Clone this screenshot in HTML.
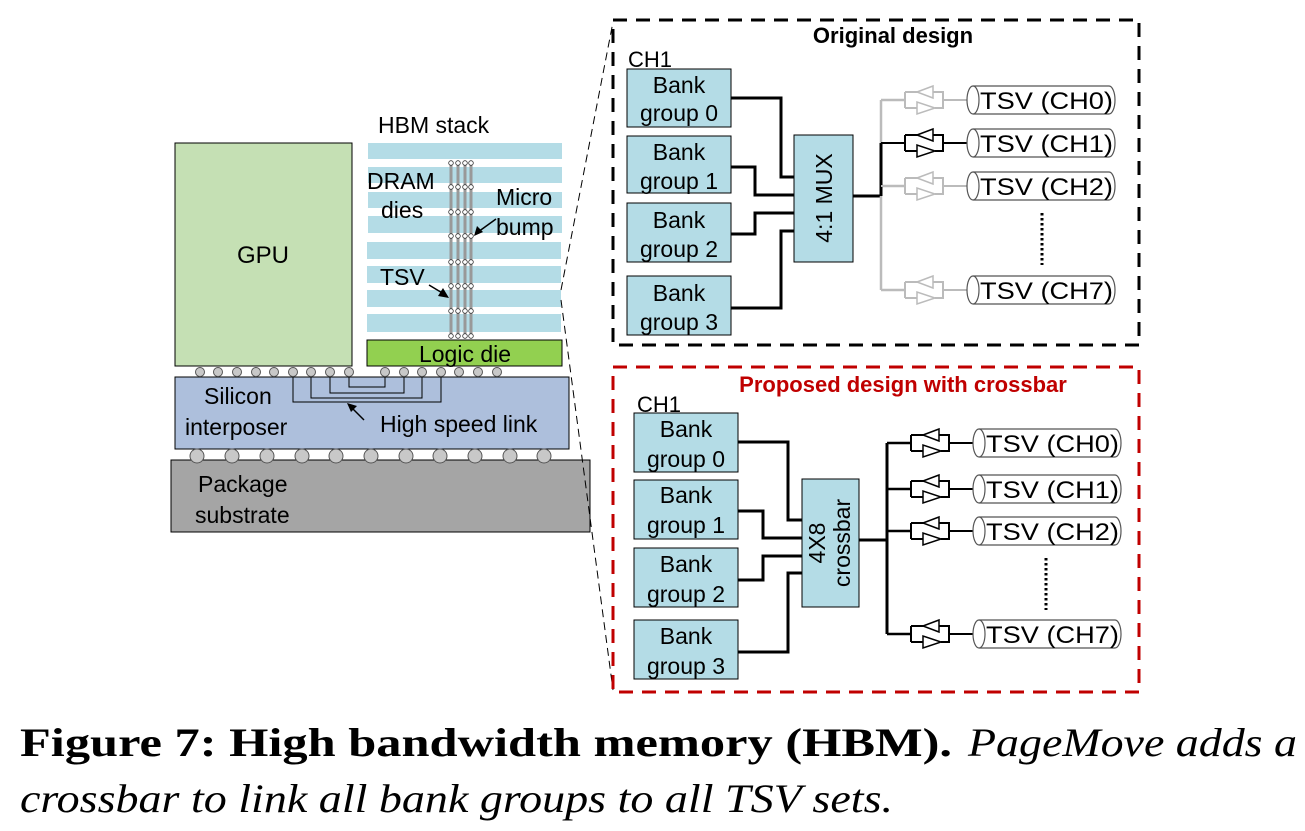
<!DOCTYPE html>
<html><head><meta charset="utf-8"><style>
html,body{margin:0;padding:0;background:#fff}
svg{display:block}
text{font-family:"Liberation Sans",Arial,sans-serif}
.s{font-family:"Liberation Serif",serif}
</style></head><body>
<svg width="1305" height="831" viewBox="0 0 1305 831" xmlns="http://www.w3.org/2000/svg">
<defs>
<g id="bufB">
<path d="M-24 0 H0 M0 -8 V8 M0 -8 H14 M0 8 H12 M26 -8 H38 V8 H30 M38 0 H62" fill="none" stroke="#000" stroke-width="2"/>
<path d="M12 -8 L28 -14 V-2 Z" fill="#fff" stroke="#000" stroke-width="1.5"/>
<path d="M12 2 V14 L30 8 Z" fill="#fff" stroke="#000" stroke-width="1.5"/>
</g>
<g id="bufG">
<path d="M-24 0 H0 M0 -8 V8 M0 -8 H14 M0 8 H12 M26 -8 H38 V8 H30 M38 0 H62" fill="none" stroke="#bbb" stroke-width="2"/>
<path d="M12 -8 L28 -14 V-2 Z" fill="#fff" stroke="#bbb" stroke-width="1.5"/>
<path d="M12 2 V14 L30 8 Z" fill="#fff" stroke="#bbb" stroke-width="1.5"/>
</g>
<g id="cyl">
<path d="M6 -14 H142 A6 14 0 0 1 142 14 H6" fill="#fff" stroke="#555" stroke-width="1.2"/>
<ellipse cx="6" cy="0" rx="6" ry="14" fill="#fff" stroke="#555" stroke-width="1.2"/>
</g>
<g id="bumprow" fill="#fff" stroke="#333" stroke-width="0.8"><circle cx="451" cy="0" r="2.3"/><circle cx="458" cy="0" r="2.3"/><circle cx="465" cy="0" r="2.3"/><circle cx="471" cy="0" r="2.3"/></g>
</defs>

<rect x="175" y="143" width="177" height="223" fill="#c5e0b4" stroke="#000" stroke-width="1"/>
<text x="263" y="263" font-size="24" text-anchor="middle">GPU</text>

<g fill="#b4dce6">
<rect x="368" y="143" width="194" height="16"/>
<rect x="368" y="167" width="194" height="16"/>
<rect x="368" y="192" width="194" height="16"/>
<rect x="368" y="216" width="194" height="17"/>
<rect x="367" y="242" width="194" height="17"/>
<rect x="367" y="266" width="194" height="17"/>
<rect x="367" y="290" width="194" height="17"/>
<rect x="367" y="314" width="194" height="18"/>
</g>
<g stroke="#999" stroke-width="3">
<line x1="451" y1="163" x2="451" y2="336"/><line x1="458" y1="163" x2="458" y2="336"/>
<line x1="465" y1="163" x2="465" y2="336"/><line x1="471" y1="163" x2="471" y2="336"/>
</g>
<use href="#bumprow" y="163"/><use href="#bumprow" y="187"/><use href="#bumprow" y="212"/><use href="#bumprow" y="236"/>
<use href="#bumprow" y="262"/><use href="#bumprow" y="286"/><use href="#bumprow" y="311"/><use href="#bumprow" y="336"/>
<text x="378" y="133" font-size="23">HBM stack</text>
<text x="367" y="189" font-size="23">DRAM</text>
<text x="381" y="218" font-size="23">dies</text>
<text x="496" y="205" font-size="23">Micro</text>
<text x="496" y="235" font-size="23">bump</text>
<text x="380" y="285" font-size="23">TSV</text>
<path d="M496 219 L478 232" stroke="#000" stroke-width="1.5"/><path d="M474 236 L477 226 L483 232 Z" fill="#000"/>
<path d="M429 285 L444 294" stroke="#000" stroke-width="1.5"/><path d="M449 298 L438 296 L443 288 Z" fill="#000"/>

<rect x="367" y="340" width="195" height="26" fill="#92d050" stroke="#000" stroke-width="1"/>
<text x="465" y="362" font-size="23" text-anchor="middle">Logic die</text>

<rect x="175" y="377" width="394" height="72" fill="#adbfdc" stroke="#000" stroke-width="1"/>
<g fill="#c8c8c8" stroke="#555" stroke-width="1">
<circle cx="200" cy="372" r="4.5"/><circle cx="218" cy="372" r="4.5"/><circle cx="237" cy="372" r="4.5"/><circle cx="256" cy="372" r="4.5"/><circle cx="274" cy="372" r="4.5"/><circle cx="293" cy="372" r="4.5"/><circle cx="311" cy="372" r="4.5"/><circle cx="330" cy="372" r="4.5"/><circle cx="349" cy="372" r="4.5"/>
<circle cx="385" cy="372" r="4.5"/><circle cx="404" cy="372" r="4.5"/><circle cx="422" cy="372" r="4.5"/><circle cx="441" cy="372" r="4.5"/><circle cx="459" cy="372" r="4.5"/><circle cx="478" cy="372" r="4.5"/><circle cx="497" cy="372" r="4.5"/>
</g>
<g fill="none" stroke="#000" stroke-width="1">
<path d="M293 377 V402 H441 V377"/><path d="M311 377 V398 H422 V377"/><path d="M330 377 V393 H404 V377"/><path d="M349 377 V387 H385 V377"/>
</g>
<path d="M364 420 L351 407" stroke="#000" stroke-width="1.5"/><path d="M347 403 L357 406 L351 412 Z" fill="#000"/>
<text x="204" y="404" font-size="23">Silicon</text>
<text x="185" y="435" font-size="23">interposer</text>
<text x="380" y="432" font-size="23">High speed link</text>

<rect x="171" y="460" width="419" height="72" fill="#a5a5a5" stroke="#000" stroke-width="1"/>
<g fill="#c8c8c8" stroke="#555" stroke-width="1">
<circle cx="197" cy="456" r="7"/><circle cx="232" cy="456" r="7"/><circle cx="267" cy="456" r="7"/><circle cx="302" cy="456" r="7"/><circle cx="336" cy="456" r="7"/><circle cx="371" cy="456" r="7"/><circle cx="406" cy="456" r="7"/><circle cx="440" cy="456" r="7"/><circle cx="475" cy="456" r="7"/><circle cx="510" cy="456" r="7"/><circle cx="544" cy="456" r="7"/>
</g>
<text x="198" y="492" font-size="23">Package</text>
<text x="195" y="523" font-size="23">substrate</text>

<g stroke="#000" stroke-width="1" stroke-dasharray="8,5" fill="none">
<line x1="561" y1="290" x2="613" y2="22"/>
<line x1="561" y1="300" x2="613" y2="690"/>
</g>

<rect x="613" y="20" width="526" height="325" fill="none" stroke="#000" stroke-width="3" stroke-dasharray="14,9"/>
<text x="893" y="43" font-size="22" font-weight="bold" text-anchor="middle">Original design</text>
<text x="628" y="67" font-size="22">CH1</text>
<g fill="#b4dce6" stroke="#000" stroke-width="1">
<rect x="627" y="69" width="104" height="58"/><rect x="627" y="136" width="104" height="57"/><rect x="627" y="203" width="104" height="59"/><rect x="627" y="276" width="104" height="59"/>
<rect x="794" y="135" width="59" height="127"/>
</g>
<g font-size="23" text-anchor="middle">
<text x="679" y="93">Bank</text><text x="679" y="121">group 0</text>
<text x="679" y="160">Bank</text><text x="679" y="189">group 1</text>
<text x="679" y="228">Bank</text><text x="679" y="257">group 2</text>
<text x="679" y="301">Bank</text><text x="679" y="330">group 3</text>
</g>
<text transform="translate(832,198) rotate(-90)" font-size="23" text-anchor="middle">4:1 MUX</text>
<g fill="none" stroke="#000" stroke-width="3">
<path d="M731 98 H781 V177 H794"/><path d="M731 167 H755 V195 H794"/><path d="M731 234 H755 V213 H794"/><path d="M731 308 H781 V231 H794"/>
<path d="M853 196 H881"/>
</g>
<path d="M881 100 V290 M881 100 H905 M881 186 H905 M881 290 H905" stroke="#bbb" stroke-width="2.5" fill="none"/>
<path d="M881 196 V143" stroke="#000" stroke-width="3"/>
<use href="#bufG" x="905" y="100"/><use href="#bufB" x="905" y="143"/><use href="#bufG" x="905" y="186"/><use href="#bufG" x="905" y="290"/>
<use href="#cyl" x="967" y="100"/><use href="#cyl" x="967" y="143"/><use href="#cyl" x="967" y="186"/><use href="#cyl" x="967" y="290"/>
<g font-size="24"><text x="980" y="109" textLength="133" lengthAdjust="spacingAndGlyphs">TSV (CH0)</text><text x="980" y="152" textLength="133" lengthAdjust="spacingAndGlyphs">TSV (CH1)</text><text x="980" y="195" textLength="133" lengthAdjust="spacingAndGlyphs">TSV (CH2)</text><text x="980" y="299" textLength="133" lengthAdjust="spacingAndGlyphs">TSV (CH7)</text></g>
<line x1="1042" y1="213" x2="1042" y2="265" stroke="#000" stroke-width="3" stroke-dasharray="2.5,2.5"/>

<rect x="613" y="367" width="526" height="325" fill="none" stroke="#c00000" stroke-width="3" stroke-dasharray="14,9"/>
<text x="903" y="392" font-size="22" font-weight="bold" fill="#c00000" text-anchor="middle">Proposed design with crossbar</text>
<text x="637" y="412" font-size="22">CH1</text>
<g fill="#b4dce6" stroke="#000" stroke-width="1">
<rect x="634" y="413" width="104" height="59"/><rect x="634" y="480" width="104" height="59"/><rect x="634" y="548" width="104" height="59"/><rect x="634" y="620" width="104" height="59"/>
<rect x="802" y="479" width="57" height="128"/>
</g>
<g font-size="23" text-anchor="middle">
<text x="686" y="437">Bank</text><text x="686" y="467">group 0</text>
<text x="686" y="503">Bank</text><text x="686" y="533">group 1</text>
<text x="686" y="572">Bank</text><text x="686" y="602">group 2</text>
<text x="686" y="644">Bank</text><text x="686" y="674">group 3</text>
</g>
<text transform="translate(825,543) rotate(-90)" font-size="23" text-anchor="middle">4X8</text>
<text transform="translate(850,543) rotate(-90)" font-size="23" text-anchor="middle">crossbar</text>
<g fill="none" stroke="#000" stroke-width="3">
<path d="M738 442 H788 V520 H802"/><path d="M738 511 H763 V538 H802"/><path d="M738 580 H763 V556 H802"/><path d="M738 652 H788 V573 H802"/>
<path d="M859 540 H887"/><path d="M887 443 V634"/>
</g>
<path d="M887 443 H911 M887 489 H911 M887 531 H911 M887 634 H911" stroke="#000" stroke-width="2.5"/>
<use href="#bufB" x="911" y="443"/><use href="#bufB" x="911" y="489"/><use href="#bufB" x="911" y="531"/><use href="#bufB" x="911" y="634"/>
<use href="#cyl" x="973" y="443"/><use href="#cyl" x="973" y="489"/><use href="#cyl" x="973" y="531"/><use href="#cyl" x="973" y="634"/>
<g font-size="24"><text x="986" y="452" textLength="133" lengthAdjust="spacingAndGlyphs">TSV (CH0)</text><text x="986" y="498" textLength="133" lengthAdjust="spacingAndGlyphs">TSV (CH1)</text><text x="986" y="540" textLength="133" lengthAdjust="spacingAndGlyphs">TSV (CH2)</text><text x="986" y="643" textLength="133" lengthAdjust="spacingAndGlyphs">TSV (CH7)</text></g>
<line x1="1046" y1="558" x2="1046" y2="610" stroke="#000" stroke-width="3" stroke-dasharray="2.5,2.5"/>

<text class="s" x="20" y="756" font-size="40" font-weight="bold" textLength="932" lengthAdjust="spacingAndGlyphs">Figure 7: High bandwidth memory (HBM).</text>
<text class="s" x="968" y="756" font-size="40" font-style="italic" textLength="329" lengthAdjust="spacingAndGlyphs">PageMove adds a</text>
<text class="s" x="20" y="812" font-size="40" font-style="italic" textLength="873" lengthAdjust="spacingAndGlyphs">crossbar to link all bank groups to all TSV sets.</text>
</svg>
</body></html>
